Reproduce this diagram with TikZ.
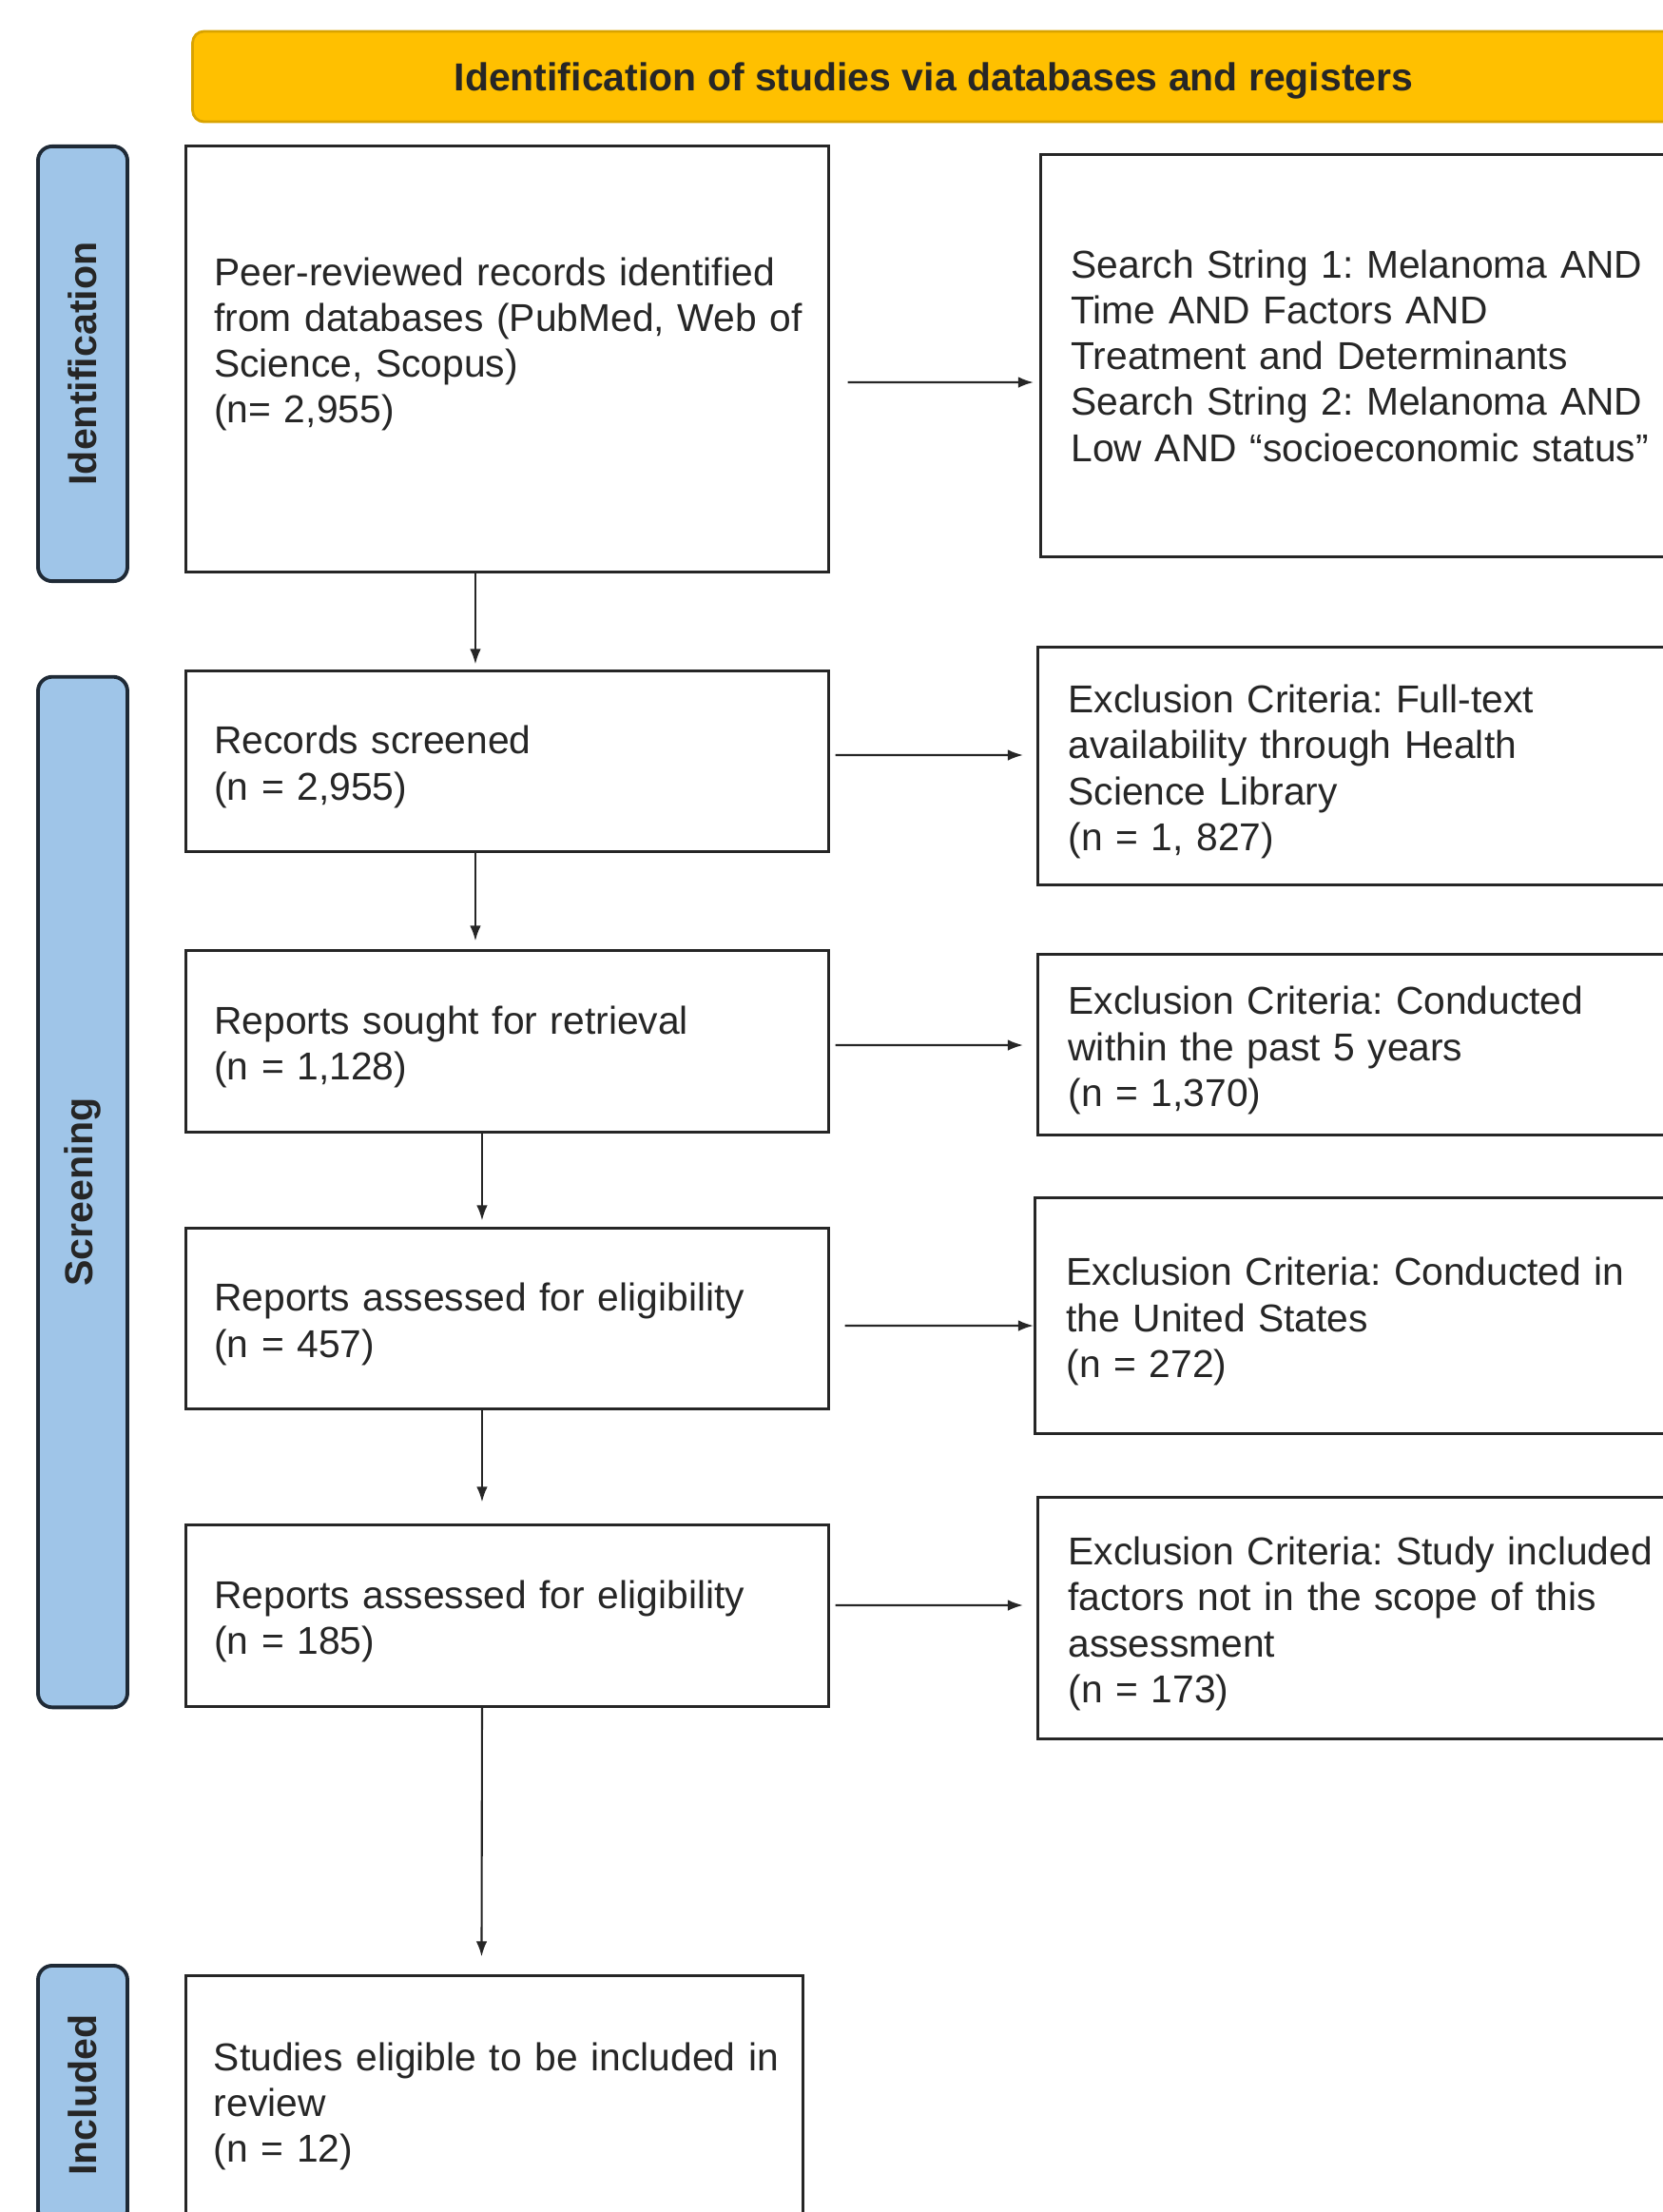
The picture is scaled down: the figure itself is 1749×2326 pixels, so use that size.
\documentclass[tikz,border=0pt]{standalone}
\usepackage{fontspec}
\setmainfont{Liberation Sans}
\usetikzlibrary{arrows.meta}
\definecolor{bannerfill}{HTML}{FFC000}
\definecolor{bannerline}{HTML}{D9A300}
\definecolor{tabfill}{HTML}{9FC5E8}
\definecolor{tabline}{HTML}{1F2A36}
\definecolor{inkgray}{HTML}{262626}
\frenchspacing

\begin{document}
\begin{tikzpicture}[x=0.01cm,y=0.01cm]
                      \tikzstyle{every node}+=[inner sep=0pt, text=inkgray, font=\fontsize{11.6}{13.7}\selectfont]
                      \tikzstyle{banner}=[draw=bannerline, fill=bannerfill, line width=0.8pt, rounded corners=0.12cm, text height=11pt, font=\fontsize{11.65}{13.7}\selectfont\bfseries]
                      \tikzstyle{phase}=[draw=tabline, fill=tabfill, line width=1.1pt, rounded corners=0.15cm, minimum width=0.94cm]
                      \tikzstyle{phasetext}=[rotate=90, font=\fontsize{11.7}{13.7}\selectfont\bfseries]
                      \tikzstyle{box}=[draw=inkgray, line width=0.85pt, minimum width=6.75cm, text width=6.5cm, inner xsep=0.125cm, execute at begin node={\leftskip=0.17cm}, text height=11.8pt, align=left]
                      \tikzstyle{sidebox}=[draw=inkgray, line width=0.85pt, text width=6.5cm, inner xsep=0.32cm, text height=11.8pt, align=left, anchor=west]
                      \tikzstyle{arr}=[draw=inkgray, line width=0.6pt, -{Latex[length=1.6mm,width=1.15mm]}]
                      \useasboundingbox (0,0) rectangle (1749,-2326);
                      \node [banner, minimum width=15.58cm, minimum height=0.95cm] (head) at (982,-80.5) {Identification of studies via databases and registers};
                      \node [phase, minimum height=4.57cm] (tabid) at (87,-382.5) {};
                      \node [phasetext] at (tabid) {Identification};
                      \node [phase, minimum height=10.83cm] (tabscr) at (87,-1253.5) {};
                      \node [phasetext] at (tabscr) {Screening};
                      \node [phase, minimum height=2.72cm] (tabinc) at (87,-2203) {};
                      \node [phasetext] at (tabinc) {Included};
                      \node [box, minimum height=4.47cm, text depth=55.7pt] (found) at (533.5,-377.5) {Peer-reviewed records identified\\from databases (PubMed, Web of\\Science, Scopus)\\(n= 2,955)};
                      \node [box, minimum height=1.89cm] (screened) at (533.5,-800.5) {Records screened\\(n = 2,955)};
                      \node [box, minimum height=1.9cm] (sought) at (533.5,-1095) {Reports sought for retrieval\\(n = 1,128)};
                      \node [box, minimum height=1.89cm] (assessedA) at (533.5,-1386.5) {Reports assessed for eligibility\\(n = 457)};
                      \node [box, minimum height=1.9cm] (assessedB) at (533.5,-1699) {Reports assessed for eligibility\\(n = 185)};
                      \node [box, minimum width=6.48cm, text width=6.23cm, execute at begin node={\leftskip=0.165cm}, minimum height=2.62cm] (included) at (520,-2209) {Studies eligible to be included in\\review\\(n = 12)};
                      \node [sidebox, minimum height=4.22cm, text height=8.5pt] (strings) at (1093,-374) {Search String 1: Melanoma AND\\Time AND Factors AND\\Treatment and Determinants\\Search String 2: Melanoma AND\\Low AND “socioeconomic status”};
                      \node [sidebox, minimum height=2.49cm] (exfull) at (1090,-805.5) {Exclusion Criteria: Full-text\\availability through Health\\Science Library\\(n = 1, 827)};
                      \node [sidebox, minimum height=1.89cm] (exyears) at (1090,-1098.5) {Exclusion Criteria: Conducted\\within the past 5 years\\(n = 1,370)};
                      \node [sidebox, minimum height=2.47cm, inner xsep=0.33cm] (exus) at (1087,-1383.5) {Exclusion Criteria: Conducted in\\the United States\\(n = 272)};
                      \node [sidebox, minimum height=2.53cm] (exscope) at (1090,-1701.5) {Exclusion Criteria: Study included\\factors not in the scope of this\\assessment\\(n = 173)};
                      \draw [arr] ([xshift=-0.335cm]found.south) -- ([xshift=-0.335cm, yshift=0.06cm]screened.north);
                      \draw [arr] ([xshift=-0.335cm]screened.south) -- ([xshift=-0.335cm, yshift=0.09cm]sought.north);
                      \draw [arr] ([xshift=-0.265cm]sought.south) -- ([xshift=-0.265cm, yshift=0.07cm]assessedA.north);
                      \draw [arr] ([xshift=-0.265cm]assessedA.south) -- ([xshift=-0.265cm, yshift=0.23cm]assessedB.north);
                      \draw [arr] ([xshift=-0.265cm]assessedB.south) -- ([xshift=-0.135cm, yshift=0.19cm]included.north);
                      \draw [arr] ([xshift=0.19cm, yshift=-0.245cm]found.east) -- ([xshift=-0.06cm, yshift=-0.28cm]strings.west);
                      \draw [arr] ([xshift=0.06cm, yshift=0.065cm]screened.east) -- ([xshift=-0.14cm, yshift=0.115cm]exfull.west);
                      \draw [arr] ([xshift=0.06cm, yshift=-0.04cm]sought.east) -- ([xshift=-0.14cm, yshift=-0.005cm]exyears.west);
                      \draw [arr] ([xshift=0.16cm, yshift=-0.075cm]assessedA.east) -- ([yshift=-0.105cm]exus.west);
                      \draw [arr] ([xshift=0.06cm, yshift=0.11cm]assessedB.east) -- ([xshift=-0.14cm, yshift=0.135cm]exscope.west);
                  \end{tikzpicture}
\end{document}
